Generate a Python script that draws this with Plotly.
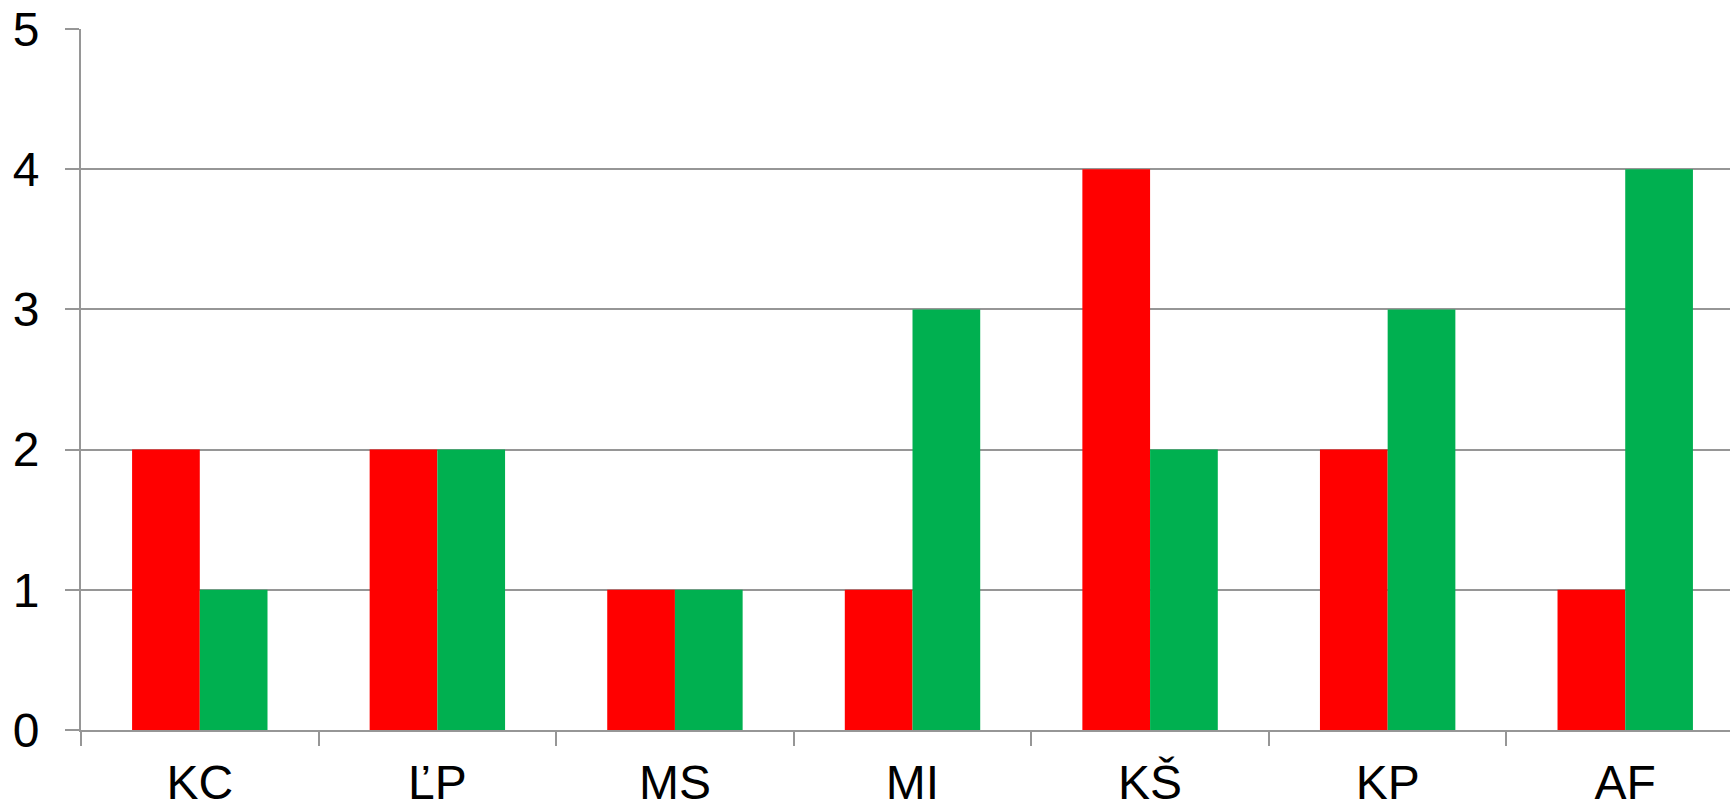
import plotly.graph_objects as go

# Categories and the two series shown for each
categories = ["KC", "ĽP", "MS", "MI", "KŠ", "KP", "AF"]
red_values = [2, 2, 1, 1, 4, 2, 1]
green_values = [1, 2, 1, 3, 2, 3, 4]
y_ticks = [0, 1, 2, 3, 4, 5]

RED = "#FF0000"
GREEN = "#00B050"
GRID = "#969696"
FONT = "Liberation Sans, Arial, sans-serif"

fig = go.Figure()
fig.add_trace(go.Bar(x=categories, y=red_values, marker=dict(color=RED, line=dict(width=0)),
                     showlegend=False))
fig.add_trace(go.Bar(x=categories, y=green_values, marker=dict(color=GREEN, line=dict(width=0)),
                     showlegend=False))

fig.update_layout(
    width=1730,
    height=808,
    margin=dict(l=81, r=0, t=29, b=78, pad=0),
    paper_bgcolor="white",
    plot_bgcolor="white",
    barmode="group",
    bargap=0.43,
    bargroupgap=0,
    font=dict(family=FONT, size=48, color="black"),
)

fig.update_xaxes(
    type="category",
    range=[-0.5, 6.441],
    automargin=False,
    showgrid=False,
    showline=True,
    linecolor=GRID,
    linewidth=2,
    ticks="outside",
    tickson="boundaries",
    ticklen=14,
    tickwidth=2,
    tickcolor=GRID,
    tickfont=dict(family=FONT, size=48, color="black"),
    ticklabelstandoff=9,
    zeroline=False,
)

fig.update_yaxes(
    range=[0, 5],
    tickvals=y_ticks,
    automargin=False,
    showgrid=True,
    gridcolor=GRID,
    gridwidth=2,
    showline=True,
    linecolor=GRID,
    linewidth=2,
    ticks="outside",
    ticklen=14,
    tickwidth=2,
    tickcolor=GRID,
    tickfont=dict(family=FONT, size=48, color="black"),
    ticklabelstandoff=16,
    zeroline=False,
)

fig.write_html("out.html")
